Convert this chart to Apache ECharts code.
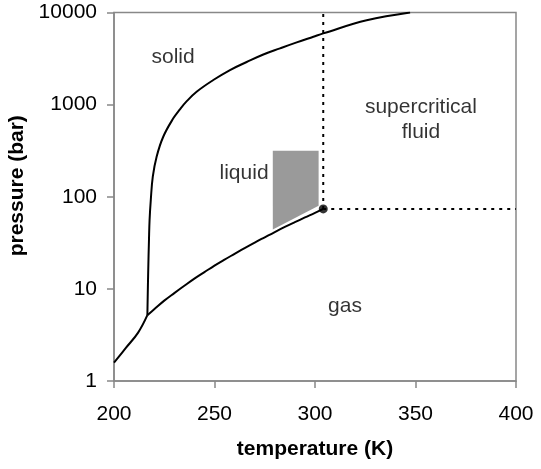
<!DOCTYPE html>
<html>
<head>
<meta charset="utf-8">
<script src="https://cdn.jsdelivr.net/npm/echarts@6/dist/echarts.min.js"></script>
<style>
html,body{margin:0;padding:0;background:#fff;}
#c{width:541px;height:469px;}
</style>
</head>
<body>
<div id="c"></div>
<script>
// ---- data (temperature K, pressure bar) ----
var sublimationT = [200, 206, 212, 216.6];
var sublimationP = [1.58, 2.3, 3.35, 5.18];

var vaporT = [216.6, 220, 225, 230, 235, 240, 245, 250, 255, 260, 265, 270, 275, 280, 285, 290, 295, 300, 304.1];
var vaporP = [5.18, 6.0, 7.45, 9.0, 10.8, 12.9, 15.2, 17.9, 20.8, 24.0, 27.7, 31.8, 36.3, 41.4, 47.0, 53.0, 59.6, 66.8, 73.8];

var meltingT = [216.6, 217.0, 217.4, 217.7, 218.3, 219.3, 221.2, 224.5, 229.5, 232.8, 236.2, 241.1, 249.4, 257.7, 266.0, 274.3, 282.6, 290.9, 299.2, 304.1, 325.7, 347.3];
var meltingP = [5.18, 15, 34, 56, 92, 165, 272, 448, 710, 890, 1090, 1380, 1849, 2374, 2900, 3500, 4085, 4745, 5460, 5930, 8220, 10000];

var criticalT = 304.1, criticalP = 73.8;
var maxT = 400, maxP = 10000;

var shadeT = [279, 301.8, 301.8, 279];
var shadeP = [316, 316, 80, 44];

var regionNames = ['solid', 'liquid', 'supercritical\nfluid', 'gas'];
var regionT = [229.4, 264.7, 352.7, 314.9];
var regionP = [3290, 181, 689, 6.5];

var xTicks = [200, 250, 300, 350, 400];
var yTicks = [1, 10, 100, 1000, 10000];

function zip(a, b) { return a.map(function (v, i) { return [v, b[i]]; }); }

var FONT = '"Liberation Sans", Arial, Helvetica, sans-serif';
var chart = echarts.init(document.getElementById('c'), null, {renderer: 'canvas'});

var option = {
  animation: false,
  backgroundColor: '#fff',
  grid: {left: 114, right: 25, top: 12.5, bottom: 88, show: true, borderColor: '#888', borderWidth: 1.5,
         containLabel: false, outerBoundsMode: 'none'},
  xAxis: {
    type: 'value', min: xTicks[0], max: xTicks[xTicks.length - 1], interval: 50,
    name: 'temperature (K)', nameLocation: 'middle', nameGap: 58,
    nameTextStyle: {fontFamily: FONT, fontSize: 21, fontWeight: 'bold', color: '#000'},
    axisLine: {show: true, lineStyle: {color: '#888', width: 1.5}},
    axisTick: {show: true, inside: false, length: 7, lineStyle: {color: '#888', width: 1.5}},
    axisLabel: {fontFamily: FONT, fontSize: 21, color: '#000', margin: 23,
                formatter: function (v) { return String(v); }},
    splitLine: {show: false}
  },
  yAxis: {
    type: 'log', logBase: 10, min: yTicks[0], max: yTicks[yTicks.length - 1],
    name: 'pressure (bar)', nameLocation: 'middle', nameGap: 86,
    nameTextStyle: {fontFamily: FONT, fontSize: 21, fontWeight: 'bold', color: '#000', padding: [0, 0, 0, 22]},
    axisLine: {show: true, lineStyle: {color: '#888', width: 1.5}},
    axisTick: {show: true, inside: false, length: 7, lineStyle: {color: '#888', width: 1.5}},
    minorTick: {show: false},
    axisLabel: {fontFamily: FONT, fontSize: 21, color: '#000', margin: 17,
                formatter: function (v) { return String(v); }},
    splitLine: {show: false}
  },
  series: [
    {
      type: 'custom', silent: true, z: 1,
      data: [0],
      renderItem: function (params, api) {
        var pts = shadeT.map(function (t, i) { return api.coord([t, shadeP[i]]); });
        return {type: 'polygon', shape: {points: pts}, style: {fill: '#9a9a9a', stroke: null}};
      }
    },
    {
      type: 'line', data: zip(sublimationT, sublimationP), symbol: 'none', smooth: 0.4,
      lineStyle: {color: '#000', width: 2}, z: 3
    },
    {
      type: 'line', data: zip(vaporT, vaporP), symbol: 'none', smooth: 0.4,
      lineStyle: {color: '#000', width: 2}, z: 3
    },
    {
      type: 'line', data: zip(meltingT, meltingP), symbol: 'none', smooth: 0.4,
      lineStyle: {color: '#000', width: 2}, z: 3
    },
    {
      type: 'line', data: [[criticalT, criticalP], [criticalT, maxP]], symbol: 'none',
      lineStyle: {color: '#000', width: 2, type: [3, 5]}, z: 2
    },
    {
      type: 'line', data: [[criticalT, criticalP], [maxT, criticalP]], symbol: 'none',
      lineStyle: {color: '#000', width: 2, type: [3, 5]}, z: 2
    },
    {
      type: 'scatter', data: [[criticalT, criticalP]], symbol: 'circle', symbolSize: 9,
      itemStyle: {color: '#000'}, z: 4
    },
    {
      type: 'scatter', symbolSize: 0, z: 5,
      data: regionNames.map(function (n, i) { return [regionT[i], regionP[i], n]; }),
      label: {
        show: true, position: 'inside', formatter: function (p) { return p.data[2]; },
        fontFamily: FONT, fontSize: 21, color: '#000', lineHeight: 25, align: 'center'
      }
    }
  ]
};
chart.setOption(option);
</script>
</body>
</html>
